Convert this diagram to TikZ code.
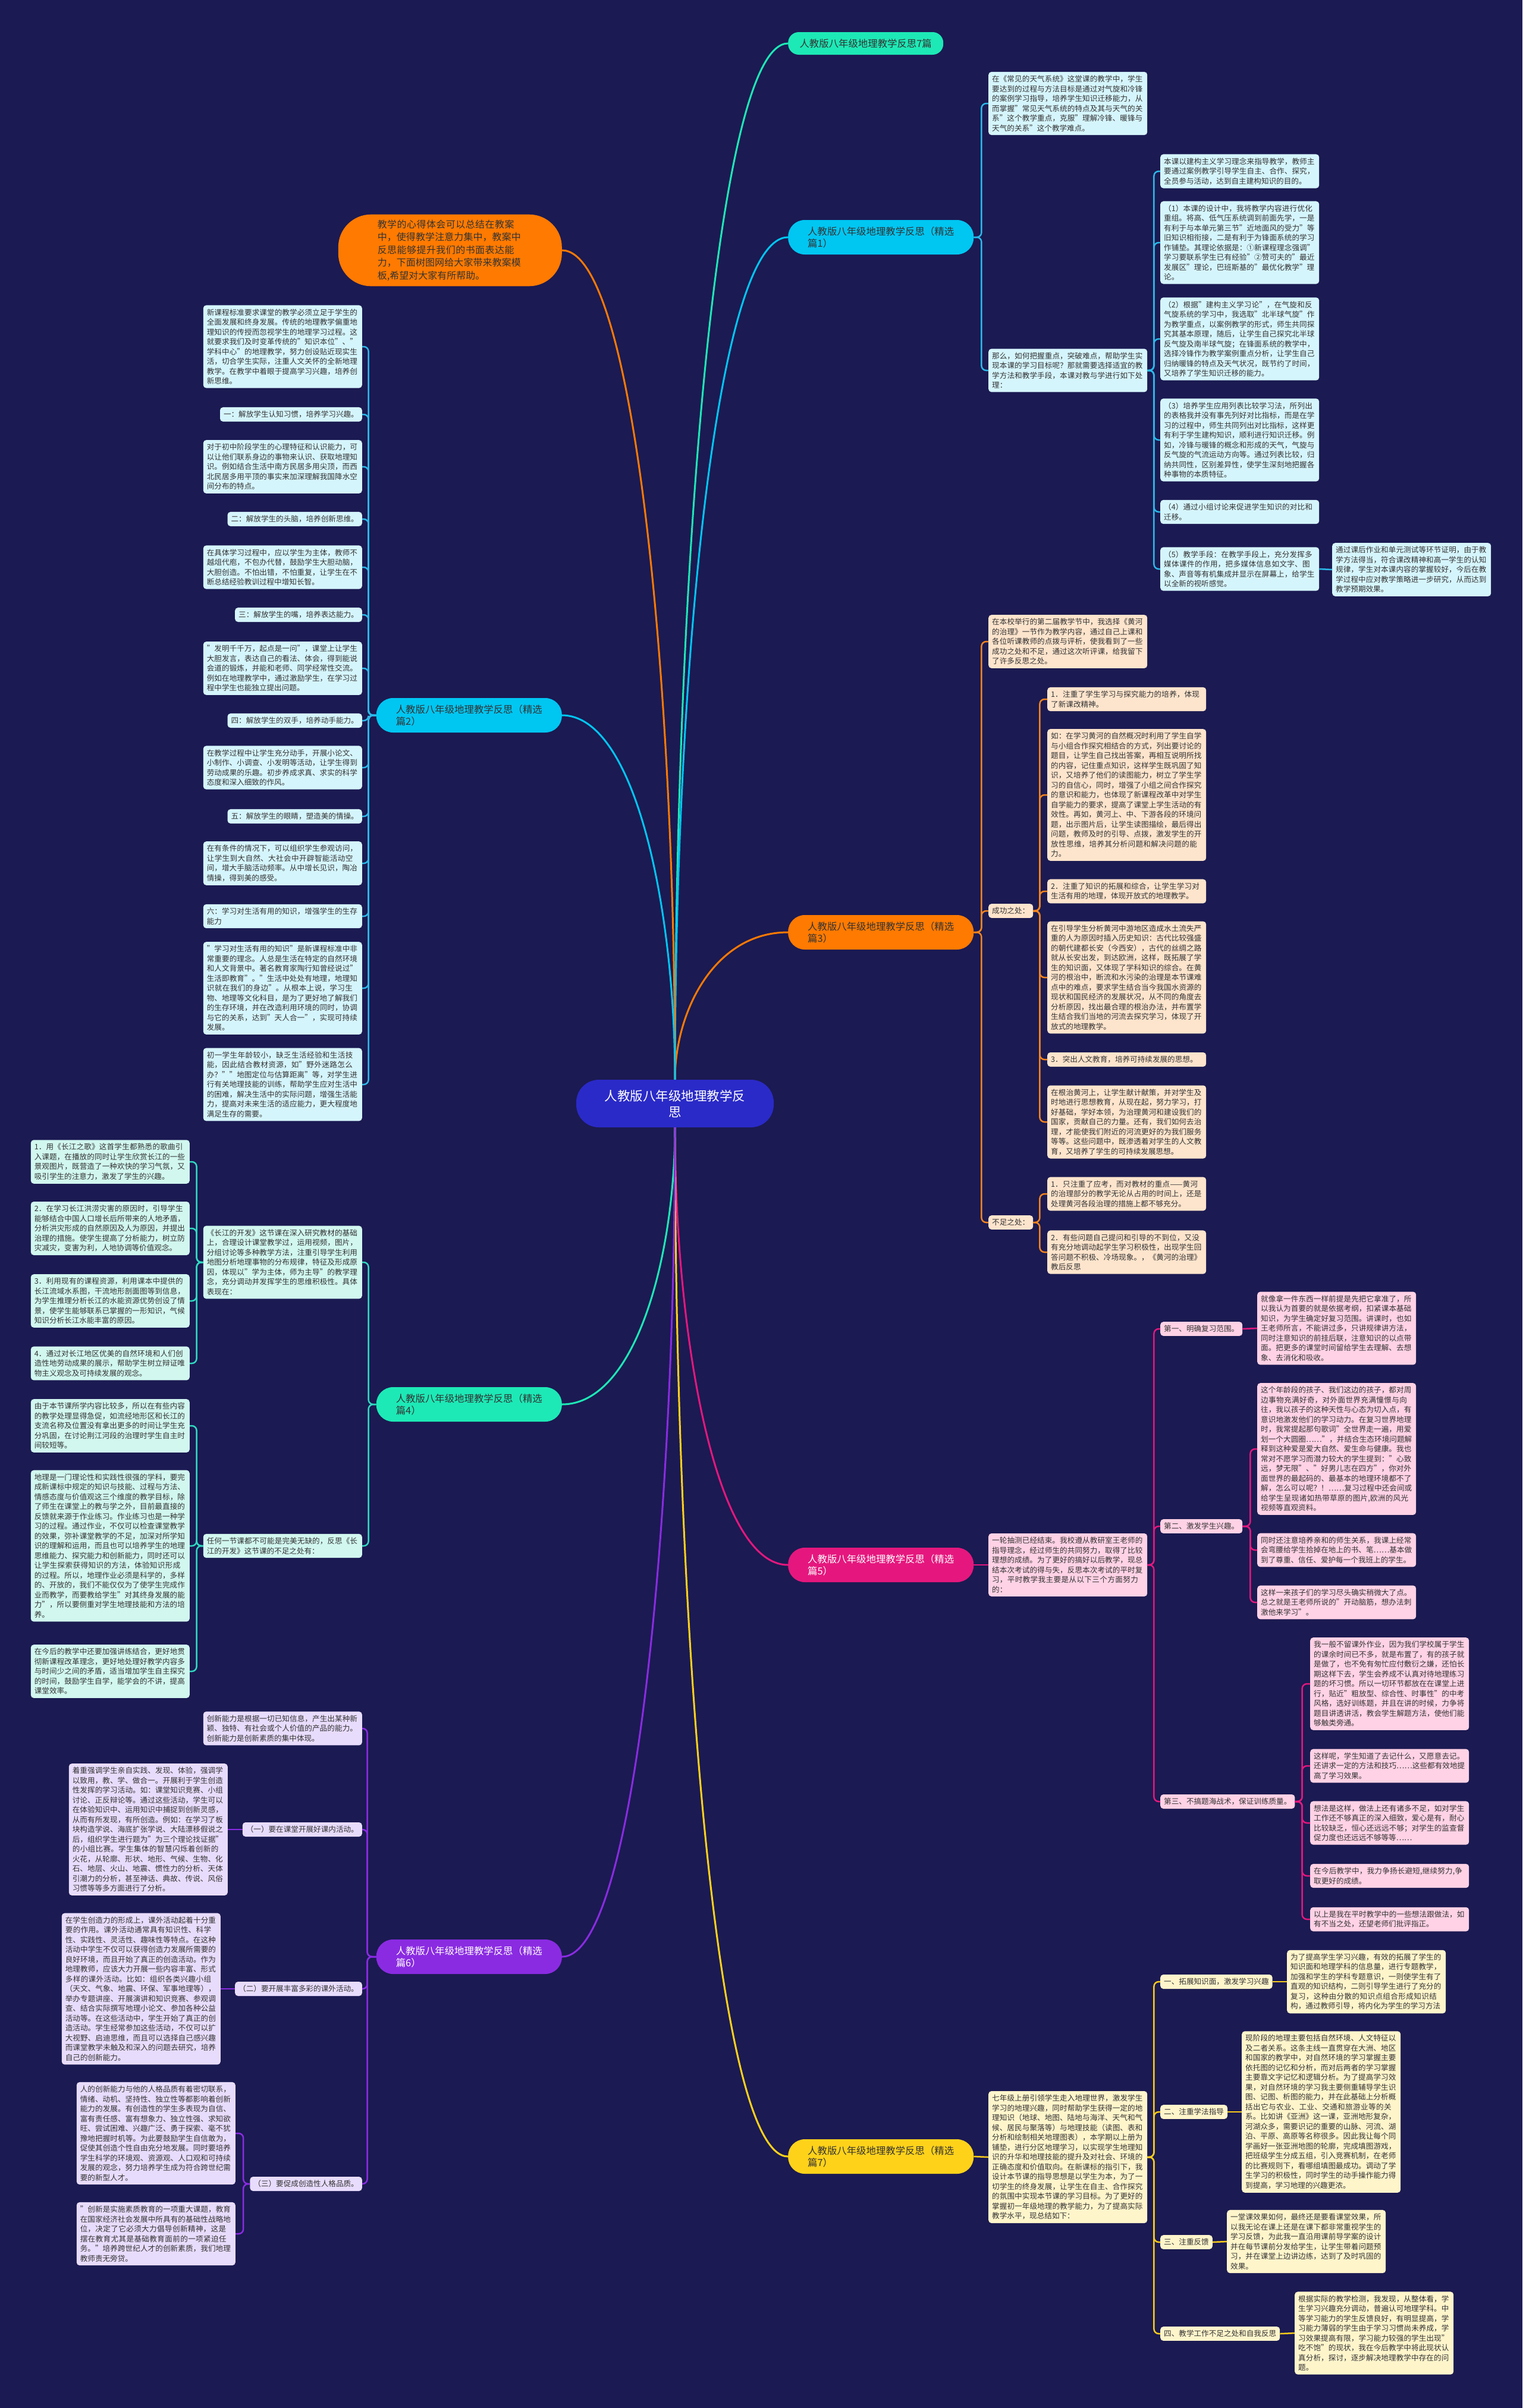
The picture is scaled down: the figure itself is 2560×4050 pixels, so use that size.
\documentclass[tikz,border=0pt]{standalone}
\usepackage{fontspec}
\setmainfont{Noto Sans CJK SC}
\XeTeXlinebreaklocale "zh"
\XeTeXlinebreakskip = 0pt plus 1pt
\definecolor{bg}{HTML}{1B1A52}
\definecolor{txt}{HTML}{333333}
\definecolor{centerc}{HTML}{2A2AC8}
\definecolor{aquac}{HTML}{1DE9B6}
\definecolor{skyc}{HTML}{00C6F2}
\definecolor{orngc}{HTML}{FF7A00}
\definecolor{pinkc}{HTML}{E5177E}
\definecolor{purpc}{HTML}{8A2BE2}
\definecolor{yelc}{HTML}{FFD21A}
\definecolor{cybox}{HTML}{D5F5FC}
\definecolor{pebox}{HTML}{FDE4CC}
\definecolor{pibox}{HTML}{FFD2E5}
\definecolor{yebox}{HTML}{FFF5CB}
\definecolor{mibox}{HTML}{D1F7EF}
\definecolor{lvbox}{HTML}{E8DCFC}
\definecolor{cyline}{HTML}{2BB8E8}
\definecolor{orline}{HTML}{F5841E}
\definecolor{piline}{HTML}{E2187E}
\definecolor{yeline}{HTML}{F7CB1A}
\definecolor{miline}{HTML}{2FD9C0}
\definecolor{puline}{HTML}{8A2BE2}
\tikzset{
  sbox/.style={rectangle, rounded corners=5pt, inner xsep=6pt, inner ysep=6pt,
    font=\fontsize{12.6}{16.5}\selectfont, text=txt, align=left},
  wbox/.style={sbox, text width=255pt},
  lab/.style={rectangle, rounded corners=28pt, minimum width=312pt, minimum height=58pt,
    inner xsep=10pt, inner ysep=8pt, font=\fontsize{16.4}{20}\selectfont, text=txt, align=left},
  conn/.style={line width=2.5pt, rounded corners=8pt},
  curve/.style={line width=3pt},
}
\begin{document}
\begin{tikzpicture}[x=1pt,y=-1pt]
\fill[bg] (0,0) rectangle (2560,4050);
\useasboundingbox (0,0) rectangle (2560,4050);

% central node
\node[rectangle, rounded corners=38pt, fill=centerc, minimum width=332pt, minimum height=80pt,
  text=white, align=center, font=\fontsize{21.5}{27}\selectfont] (c) at (1135,1856)
  {人教版八年级地理教学反\\思};

% ===== first level labels =====
\node[lab, minimum width=261pt, minimum height=38pt, inner ysep=4pt, rounded corners=18pt, fill=aquac, anchor=west] (t0) at (1325,73) {人教版八年级地理教学反思7篇};
\node[lab, fill=skyc, anchor=west] (p1) at (1325,399) {人教版八年级地理教学反思（精选\\篇1）};
\node[lab, fill=orngc, anchor=west] (p3) at (1325,1568) {人教版八年级地理教学反思（精选\\篇3）};
\node[lab, fill=pinkc, text=white, anchor=west] (p5) at (1325,2632) {人教版八年级地理教学反思（精选\\篇5）};
\node[lab, fill=yelc, anchor=west] (p7) at (1325,3627) {人教版八年级地理教学反思（精选\\篇7）};
\node[lab, fill=skyc, anchor=east] (p2) at (945,1203) {人教版八年级地理教学反思（精选\\篇2）};
\node[lab, fill=aquac, anchor=east] (p4) at (945,2362) {人教版八年级地理教学反思（精选\\篇4）};
\node[lab, fill=purpc, text=white, anchor=east] (p6) at (945,3291) {人教版八年级地理教学反思（精选\\篇6）};
\node[rectangle, rounded corners=55pt, fill=orngc, text=txt, text width=244pt, inner xsep=66pt, inner ysep=9pt,
  align=left, font=\fontsize{16}{21.5}\selectfont, anchor=east] (oi) at (945,421)
  {教学的心得体会可以总结在教案中，使得教学注意力集中，教案中反思能够提升我们的书面表达能力，下面树图网给大家带来教案模板,希望对大家有所帮助。};

% center curves
\draw[curve, aquac] (c.north) .. controls (1135,996) and (1202,73) .. (t0.west);
\draw[curve, skyc] (c.north) .. controls (1135,1150) and (1202,399) .. (p1.west);
\draw[curve, orngc] (c.north) .. controls (1135,1700) and (1202,1568) .. (p3.west);
\draw[curve, pinkc] (c.south) .. controls (1135,2242) and (1202,2632) .. (p5.west);
\draw[curve, yelc] (c.south) .. controls (1135,2710) and (1202,3627) .. (p7.west);
\draw[curve, orngc] (c.north) .. controls (1135,1160) and (1068,421) .. (oi.east);
\draw[curve, skyc] (c.north) .. controls (1135,1528) and (1068,1203) .. (p2.east);
\draw[curve, aquac] (c.south) .. controls (1135,2115) and (1068,2362) .. (p4.east);
\draw[curve, purpc] (c.south) .. controls (1135,2552) and (1068,3291) .. (p6.east);

% ===== 篇1 =====
\begin{scope}[every node/.style={wbox, fill=cybox, anchor=west}]
\node (a1) at (1662,174) {在《常见的天气系统》这堂课的教学中，学生要达到的过程与方法目标是通过对气旋和冷锋的案例学习指导，培养学生知识迁移能力，从而掌握"常见天气系统的特点及其与天气的关系"这个教学重点，克服"理解冷锋、暖锋与天气的关系"这个教学难点。};
\node (n1) at (1662,623) {那么，如何把握重点，突破难点，帮助学生实现本课的学习目标呢？那就需要选择适宜的教学方法和教学手段，本课对教与学进行如下处理：};
\node (b1) at (1951,288) {本课以建构主义学习理念来指导教学，教师主要通过案例教学引导学生自主、合作、探究，全员参与活动，达到自主建构知识的目的。};
\node (b2) at (1951,408) {（1）本课的设计中，我将教学内容进行优化重组。将高、低气压系统调到前面先学，一是有利于与本单元第三节"近地面风的受力"等旧知识相衔接，二是有利于为锋面系统的学习作铺垫。其理论依据是：①新课程理念强调"学习要联系学生已有经验"②赞可夫的"最近发展区"理论，巴班斯基的"最优化教学"理论。};
\node (b3) at (1951,570) {（2）根据"建构主义学习论"，在气旋和反气旋系统的学习中，我选取"北半球气旋"作为教学重点，以案例教学的形式，师生共同探究其基本原理，随后，让学生自己探究北半球反气旋及南半球气旋；在锋面系统的教学中，选择冷锋作为教学案例重点分析，让学生自己归纳暖锋的特点及天气状况，既节约了时间，又培养了学生知识迁移的能力。};
\node (b4) at (1951,740) {（3）培养学生应用列表比较学习法，所列出的表格我并没有事先列好对比指标，而是在学习的过程中，师生共同列出对比指标，这样更有利于学生建构知识，顺利进行知识迁移。例如，冷锋与暖锋的概念和形成的天气，气旋与反气旋的气流运动方向等。通过列表比较，归纳共同性，区别差异性，使学生深刻地把握各种事物的本质特征。};
\node (b5) at (1951,861) {（4）通过小组讨论来促进学生知识的对比和迁移。};
\node (b6) at (1951,957) {（5）教学手段：在教学手段上，充分发挥多媒体课件的作用，把多媒体信息如文字、图象、声音等有机集成并显示在屏幕上，给学生以全新的视听感觉。};
\node (b7) at (2240,958) {通过课后作业和单元测试等环节证明，由于教学方法得当，符合课改精神和高一学生的认知规律，学生对本课内容的掌握较好，今后在教学过程中应对教学策略进一步研究，从而达到教学预期效果。};
\end{scope}
\foreach \ch in {a1,n1} \draw[conn, cyline] (p1.east) -- ++(13,0) |- (\ch.west);
\foreach \ch in {b1,b2,b3,b4,b5,b6} \draw[conn, cyline] (n1.east) -- ++(11,0) |- (\ch.west);
\draw[conn, cyline] (b6.east) -- (b7.west);

% ===== 篇3 =====
\begin{scope}[every node/.style={wbox, fill=pebox, anchor=west}]
\node (c0) at (1662,1079) {在本校举行的第二届教学节中，我选择《黄河的治理》一节作为教学内容，通过自己上课和各位听课教师的点拨与评析，使我看到了一些成功之处和不足，通过这次听评课，给我留下了许多反思之处。};
\node[sbox, text width=] (cg) at (1662,1532) {成功之处：};
\node[sbox, text width=] (bz) at (1662,2056) {不足之处：};
\node (s1) at (1761,1176) {1．注重了学生学习与探究能力的培养，体现了新课改精神。};
\node (s2) at (1761,1337) {如：在学习黄河的自然概况时利用了学生自学与小组合作探究相结合的方式，列出要讨论的题目，让学生自己找出答案，再相互说明所找的内容，记住重点知识，这样学生既巩固了知识，又培养了他们的读图能力，树立了学生学习的自信心，同时，增强了小组之间合作探究的意识和能力，也体现了新课程改革中对学生自学能力的要求，提高了课堂上学生活动的有效性。再如，黄河上、中、下游各段的环境问题，出示图片后，让学生读图描绘，最后得出问题，教师及时的引导、点拨，激发学生的开放性思维，培养其分析问题和解决问题的能力。};
\node (s3) at (1761,1499) {2．注重了知识的拓展和综合，让学生学习对生活有用的地理，体现开放式的地理教学。};
\node (s4) at (1761,1644) {在引导学生分析黄河中游地区造成水土流失严重的人为原因时插入历史知识：古代比较强盛的朝代建都长安（今西安），古代的丝绸之路就从长安出发，到达欧洲，这样，既拓展了学生的知识面，又体现了学科知识的综合。在黄河的根治中，断流和水污染的治理是本节课难点中的难点，要求学生结合当今我国水资源的现状和国民经济的发展状况，从不同的角度去分析原因，找出最合理的根治办法，并布置学生结合我们当地的河流去探究学习，体现了开放式的地理教学。};
\node (s5) at (1761,1782) {3．突出人文教育，培养可持续发展的思想。};
\node (s6) at (1761,1887) {在根治黄河上，让学生献计献策，并对学生及时地进行思想教育，从现在起，努力学习，打好基础，学好本领，为治理黄河和建设我们的国家，贡献自己的力量。还有，我们如何去治理，才能使我们附近的河流更好的为我们服务等等。这些问题中，既渗透着对学生的人文教育，又培养了学生的可持续发展思想。};
\node (f1) at (1761,2008) {1．只注重了应考，而对教材的重点——黄河的治理部分的教学无论从占用的时间上，还是处理黄河各段治理的措施上都不够充分。};
\node (f2) at (1761,2106) {2．有些问题自己提问和引导的不到位，又没有充分地调动起学生学习积极性，出现学生回答问题不积极、冷场现象。，《黄河的治理》教后反思};
\end{scope}
\foreach \ch in {c0,cg,bz} \draw[conn, orline] (p3.east) -- ++(13,0) |- (\ch.west);
\foreach \ch in {s1,s2,s3,s4,s5,s6} \draw[conn, orline] (cg.east) -- ++(11,0) |- (\ch.west);
\foreach \ch in {f1,f2} \draw[conn, orline] (bz.east) -- ++(11,0) |- (\ch.west);

% ===== 篇5 =====
\begin{scope}[every node/.style={wbox, fill=pibox, anchor=west}]
\node (q0) at (1662,2632) {一轮抽测已经结束。我校遵从教研室王老师的指导理念，经过师生的共同努力，取得了比较理想的成绩。为了更好的搞好以后教学，现总结本次考试的得与失，反思本次考试的平时复习，平时教学我主要是从以下三个方面努力的：};
\node[sbox, text width=] (d1) at (1951,2235) {第一、明确复习范围。};
\node[sbox, text width=] (d2) at (1951,2567) {第二、激发学生兴趣。};
\node[sbox, text width=] (d3) at (1951,3030) {第三、不搞题海战术，保证训练质量。};
\node (e1) at (2114,2234) {就像拿一件东西一样前提是先把它拿准了，所以我认为首要的就是依据考纲，扣紧课本基础知识，为学生确定好复习范围。讲课时，也如王老师所言，不能讲过多，只讲规律讲方法，同时注意知识的前挂后联，注意知识的以点带面。把更多的课堂时间留给学生去理解、去想象、去消化和吸收。};
\node (e2) at (2114,2437) {这个年龄段的孩子、我们这边的孩子，都对周边事物充满好奇，对外面世界充满憧憬与向往，我以孩子的这种天性与心态为切入点，有意识地激发他们的学习动力。在复习世界地理时，我常提起那句歌词"全世界走一遍，用爱划一个大圆圈……"，并结合生态环境问题解释到这种爱是爱大自然、爱生命与健康。我也常对不愿学习而潜力较大的学生提到："心致远，梦无限"、"好男儿志在四方"，你对外面世界的最起码的、最基本的地理环境都不了解，怎么可以呢？！……复习过程中还会间或给学生呈现诸如热带草原的图片,欧洲的风光视频等直观资料。};
\node (e3) at (2114,2607) {同时还注意培养亲和的师生关系，我课上经常会弯腰给学生拾掉在地上的书、笔……基本做到了尊重、信任、爱护每一个我班上的学生。};
\node (e4) at (2114,2695) {这样一来孩子们的学习尽头确实稍微大了点。总之就是王老师所说的"开动脑筋，想办法刺激他来学习"。};
\node (g1) at (2203,2832) {我一般不留课外作业，因为我们学校属于学生的课余时间已不多，就是布置了，有的孩子就是做了，也不免有匆忙应付敷衍之嫌，还怕长期这样下去，学生会养成不认真对待地理练习题的坏习惯。所以一切环节都放在在课堂上进行，贴近"粗放型、综合性、时事性"的中考风格，选好训练题，并且在讲的时候，力争将题目讲透讲活，教会学生解题方法，使他们能够触类旁通。};
\node (g2) at (2203,2970) {这样呢，学生知道了去记什么，又愿意去记。还讲求一定的方法和技巧……这些都有效地提高了学习效果。};
\node (g3) at (2203,3066) {想法是这样，做法上还有诸多不足，如对学生工作还不够真正的深入细致，爱心是有，耐心比较缺乏，恒心还远远不够；对学生的监查督促力度也还远远不够等等……};
\node (g4) at (2203,3155) {在今后教学中，我力争扬长避短,继续努力,争取更好的成绩。};
\node (g5) at (2203,3228) {以上是我在平时教学中的一些想法跟做法，如有不当之处，还望老师们批评指正。};
\end{scope}
\draw[conn, piline] (p5.east) -- (q0.west);
\foreach \ch in {d1,d2,d3} \draw[conn, piline] (q0.east) -- ++(11,0) |- (\ch.west);
\draw[conn, piline] (d1.east) -- (e1.west);
\foreach \ch in {e2,e3,e4} \draw[conn, piline] (d2.east) -- ++(13,0) |- (\ch.west);
\foreach \ch in {g1,g2,g3,g4,g5} \draw[conn, piline] (d3.east) -- ++(12,0) |- (\ch.west);

% ===== 篇7 =====
\begin{scope}[every node/.style={wbox, fill=yebox, anchor=west}]
\node (y0) at (1662,3628) {七年级上册引领学生走入地理世界，激发学生学习的地理兴趣，同时帮助学生获得一定的地理知识（地球、地图、陆地与海洋、天气和气候、居民与聚落等）与地理技能（读图、表和分析和绘制相关地理图表），本学期以上册为铺垫，进行分区地理学习，以实现学生地理知识的升华和地理技能的提升及对社会、环境的正确态度和价值取向。在新课标的指引下，我设计本节课的指导思想是以学生为本，为了一切学生的终身发展，让学生在自主、合作探究的氛围中实现本节课的学习目标。为了更好的掌握初一年级地理的教学能力，为了提高实际教学水平，现总结如下：};
\node[sbox, text width=] (h1) at (1951,3333) {一、拓展知识面，激发学习兴趣};
\node[sbox, text width=] (h2) at (1951,3552) {二、注重学法指导};
\node[sbox, text width=] (h3) at (1951,3771) {三、注重反馈};
\node[sbox, text width=] (h4) at (1951,3925) {四、教学工作不足之处和自我反思};
\node (y1) at (2164,3333) {为了提高学生学习兴趣，有效的拓展了学生的知识面和地理学科的信息量，进行专题教学，加强和学生的学科专题意识，一则使学生有了直观的知识结构，二则引导学生进行了充分的复习，这种由分散的知识点组合形成知识结构，通过教师引导，将内化为学生的学习方法};
\node (y2) at (2088,3552) {现阶段的地理主要包括自然环境、人文特征以及二者关系。这条主线一直贯穿在大洲、地区和国家的教学中，对自然环境的学习掌握主要依托图的记忆和分析，而对后两者的学习掌握主要靠文字记忆和逻辑分析。为了提高学习效果，对自然环境的学习我主要侧重辅导学生识图、记图、析图的能力，并在此基础上分析概括出它与农业、工业、交通和旅游业等的关系。比如讲《亚洲》这一课，亚洲地形复杂，河湖众多，需要识记的重要的山脉、河流、湖泊、平原、高原等名称很多。因此我让每个同学画好一张亚洲地图的轮廓，完成填图游戏，把班级学生分成五组，引入竞赛机制，在老师的比赛规则下，看哪组填图最成功。调动了学生学习的积极性，同时学生的动手操作能力得到提高，学习地理的兴趣更浓。};
\node (y3) at (2063,3770) {一堂课效果如何，最终还是要看课堂效果，所以我无论在课上还是在课下都非常重视学生的学习反馈，为此我一直沿用课前导学案的设计并在每节课前分发给学生，让学生带着问题预习，并在课堂上边讲边练，达到了及时巩固的效果。};
\node (y4) at (2177,3924) {根据实际的教学检测，我发现，从整体看，学生学习兴趣充分调动，普遍认可地理学科。中等学习能力的学生反馈良好，有明显提高，学习能力薄弱的学生由于学习习惯尚未养成，学习效果提高有限，学习能力较强的学生出现"吃不饱"的现状，我在今后教学中将此现状认真分析，探讨，逐步解决地理教学中存在的问题。};
\end{scope}
\draw[conn, yeline] (p7.east) -- (y0.west);
\foreach \ch in {h1,h2,h3,h4} \draw[conn, yeline] (y0.east) -- ++(11,0) |- (\ch.west);
\draw[conn, yeline] (h1.east) -- (y1.west);
\draw[conn, yeline] (h2.east) -- (y2.west);
\draw[conn, yeline] (h3.east) -- (y3.west);
\draw[conn, yeline] (h4.east) -- (y4.west);

% ===== 篇2 (left) =====
\begin{scope}[every node/.style={wbox, fill=cybox, anchor=east}]
\node (l1) at (609,583) {新课程标准要求课堂的教学必须立足于学生的全面发展和终身发展。传统的地理教学偏重地理知识的传授而忽视学生的地理学习过程。这就要求我们及时变革传统的"知识本位"、"学科中心"的地理教学，努力创设贴近现实生活，切合学生实际，注重人文关怀的全新地理教学。在教学中着眼于提高学习兴趣，培养创新思维。};
\node[sbox, text width=] (l2) at (609,697) {一：解放学生认知习惯，培养学习兴趣。};
\node (l3) at (609,785) {对于初中阶段学生的心理特征和认识能力，可以让他们联系身边的事物来认识、获取地理知识。例如结合生活中南方民居多用尖顶，而西北民居多用平顶的事实来加深理解我国降水空间分布的特点。};
\node[sbox, text width=] (l4) at (609,873) {二：解放学生的头脑，培养创新思维。};
\node (l5) at (609,954) {在具体学习过程中，应以学生为主体，教师不越俎代庖，不包办代替，鼓励学生大胆动脑，大胆创造。不怕出错，不怕重复，让学生在不断总结经验教训过程中增知长智。};
\node[sbox, text width=] (l6) at (609,1034) {三：解放学生的嘴，培养表达能力。};
\node (l7) at (609,1124) {"发明千千万，起点是一问"，课堂上让学生大胆发言，表达自己的看法、体会，得到能说会道的锻炼，并能和老师、同学经常性交流。例如在地理教学中，通过激励学生，在学习过程中学生也能独立提出问题。};
\node[sbox, text width=] (l8) at (609,1212) {四：解放学生的双手，培养动手能力。};
\node (l9) at (609,1291) {在教学过程中让学生充分动手，开展小论文、小制作、小调查、小发明等活动，让学生得到劳动成果的乐趣。初步养成求真、求实的科学态度和深入细致的作风。};
\node[sbox, text width=] (l10) at (609,1373) {五：解放学生的眼睛，塑造美的情操。};
\node (l11) at (609,1452) {在有条件的情况下，可以组织学生参观访问，让学生到大自然、大社会中开辟智能活动空间，增大手脑活动频率。从中增长见识，陶冶情操，得到美的感受。};
\node (l12) at (609,1541) {六：学习对生活有用的知识，增强学生的生存能力};
\node (l13) at (609,1662) {"学习对生活有用的知识"是新课程标准中非常重要的理念。人总是生活在特定的自然环境和人文背景中。著名教育家陶行知曾经说过"生活即教育"。"生活中处处有地理，地理知识就在我们的身边"。从根本上说，学习生物、地理等文化科目，是为了更好地了解我们的生存环境，并在改造利用环境的同时，协调与它的关系，达到"天人合一"，实现可持续发展。};
\node (l14) at (609,1824) {初一学生年龄较小，缺乏生活经验和生活技能，因此结合教材资源，如"野外迷路怎么办？""地图定位与估算距离"等，对学生进行有关地理技能的训练，帮助学生应对生活中的困难，解决生活中的实际问题，增强生活能力，提高对未来生活的适应能力，更大程度地满足生存的需要。};
\end{scope}
\foreach \ch in {l1,l2,l3,l4,l5,l6,l7,l8,l9,l10,l11,l12,l13,l14} \draw[conn, cyline] (p2.west) -- ++(-13,0) |- (\ch.east);

% ===== 篇4 (left) =====
\begin{scope}[every node/.style={wbox, fill=mibox, anchor=east}]
\node (m1) at (609,2123) {《长江的开发》这节课在深入研究教材的基础上，合理设计课堂教学过，运用视频，图片，分组讨论等多种教学方法，注重引导学生利用地图分析地理事物的分布规律，特征及形成原因，体现以"学为主体，师为主导"的教学理念，充分调动并发挥学生的思维积极性。具体表现在：};
\node (m2) at (609,2600) {任何一节课都不可能是完美无缺的，反思《长江的开发》这节课的不足之处有：};
\node (k1) at (319,1954) {1．用《长江之歌》这首学生都熟悉的歌曲引入课题，在播放的同时让学生欣赏长江的一些景观图片，既营造了一种欢快的学习气氛，又吸引学生的注意力，激发了学生的兴趣。};
\node (k2) at (319,2066) {2．在学习长江洪涝灾害的原因时，引导学生能够结合中国人口增长后所带来的人地矛盾，分析洪灾形成的自然原因及人为原因，并提出治理的措施。使学生提高了分析能力，树立防灾减灾，变害为利，人地协调等价值观念。};
\node (k3) at (319,2188) {3．利用现有的课程资源，利用课本中提供的长江流域水系图，干流地形剖面图等到信息，为学生推理分析长江的水能资源优势创设了情景，使学生能够联系已掌握的一形知识，气候知识分析长江水能丰富的原因。};
\node (k4) at (319,2293) {4．通过对长江地区优美的自然环境和人们创造性地劳动成果的展示，帮助学生树立辩证唯物主义观念及可持续发展的观念。};
\node (k5) at (319,2398) {由于本节课所学内容比较多，所以在有些内容的教学处理显得急促，如流经地形区和长江的支流名称及位置没有拿出更多的时间让学生充分巩固，在讨论荆江河段的治理时学生自主时间较短等。};
\node (k6) at (319,2600) {地理是一门理论性和实践性很强的学科，要完成新课标中规定的知识与技能、过程与方法、情感态度与价值观这三个维度的教学目标，除了师生在课堂上的教与学之外，目前最直接的反馈就来源于作业练习。作业练习也是一种学习的过程。通过作业，不仅可以检查课堂教学的效果，弥补课堂教学的不足，加深对所学知识的理解和运用，而且也可以培养学生的地理思维能力、探究能力和创新能力，同时还可以让学生探索获得知识的方法，体验知识形成的过程。所以，地理作业必须是科学的，多样的、开放的，我们不能仅仅为了使学生完成作业而教学，而要教给学生"对其终身发展的能力"，所以要侧重对学生地理技能和方法的培养。};
\node (k7) at (319,2811) {在今后的教学中还要加强讲练结合，更好地贯彻新课程改革理念，更好地处理好教学内容多与时间少之间的矛盾，适当增加学生自主探究的时间，鼓励学生自学，能学会的不讲，提高课堂效率。};
\end{scope}
\foreach \ch in {m1,m2} \draw[conn, miline] (p4.west) -- ++(-13,0) |- (\ch.east);
\foreach \ch in {k1,k2,k3,k4} \draw[conn, miline] (m1.west) -- ++(-11,0) |- (\ch.east);
\foreach \ch in {k5,k6,k7} \draw[conn, miline] (m2.west) -- ++(-11,0) |- (\ch.east);

% ===== 篇6 (left) =====
\begin{scope}[every node/.style={wbox, fill=lvbox, anchor=east}]
\node (v0) at (609,2907) {创新能力是根据一切已知信息，产生出某种新颖、独特、有社会或个人价值的产品的能力。创新能力是创新素质的集中体现。};
\node[sbox, text width=] (v1) at (609,3077) {（一）要在课堂开展好课内活动。};
\node[sbox, text width=] (v2) at (609,3345) {（二）要开展丰富多彩的课外活动。};
\node[sbox, text width=] (v3) at (609,3673) {（三）要促成创造性人格品质。};
\node (w1) at (383,3077) {着重强调学生亲自实践、发现、体验，强调学以致用，教、学、做合一。开展利于学生创造性发挥的学习活动。如：课堂知识竞赛、小组讨论、正反辩论等。通过这些活动，学生可以在体验知识中、运用知识中捕捉到创新灵感，从而有所发现，有所创造。例如：在学习了板块构造学说、海底扩张学说、大陆漂移假说之后，组织学生进行题为"为三个理论找证据"的小组比赛。学生集体的智慧闪烁着创新的火花，从轮廓、形状、地形、气候、生物、化石、地层、火山、地震、惯性力的分析、天体引潮力的分析，甚至神话、典故、传说、风俗习惯等等多方面进行了分析。};
\node (w2) at (371,3345) {在学生创造力的形成上，课外活动起着十分重要的作用。课外活动通常具有知识性、科学性、实践性、灵活性、趣味性等特点。在这种活动中学生不仅可以获得创造力发展所需要的良好环境，而且开始了真正的创造活动。作为地理教师，应该大力开展一些内容丰富、形式多样的课外活动。比如：组织各类兴趣小组（天文、气象、地震、环保、军事地理等），举办专题讲座、开展演讲和知识竞赛、参观调查、结合实际撰写地理小论文、参加各种公益活动等。在这些活动中，学生开始了真正的创造活动。学生经常参加这些活动，不仅可以扩大视野、启迪思维，而且可以选择自己感兴趣而课堂教学未触及和深入的问题去研究，培养自己的创新能力。};
\node (w3) at (396,3588) {人的创新能力与他的人格品质有着密切联系，情绪、动机、坚持性、独立性等都影响着创新能力的发展。有创造性的学生多表现为自信、富有责任感、富有想象力、独立性强、求知欲旺、尝试困难、兴趣广泛、勇于探索、毫不犹豫地把握时机等。为此要鼓励学生自信敢为，促使其创造个性自由充分地发展。同时要培养学生科学的环境观、资源观、人口观和可持续发展的观念，努力培养学生成为符合跨世纪需要的新型人才。};
\node (w4) at (396,3757) {"创新是实施素质教育的一项重大课题，教育在国家经济社会发展中所具有的基础性战略地位，决定了它必须大力倡导创新精神，这是摆在教育尤其是基础教育面前的一项紧迫任务。"培养跨世纪人才的创新素质，我们地理教师责无旁贷。};
\end{scope}
\foreach \ch in {v0,v1,v2,v3} \draw[conn, puline] (p6.west) -- ++(-15,0) |- (\ch.east);
\draw[conn, puline] (v1.west) -- (w1.east);
\draw[conn, puline] (v2.west) -- (w2.east);
\foreach \ch in {w3,w4} \draw[conn, puline] (v3.west) -- ++(-11,0) |- (\ch.east);
\end{tikzpicture}
\end{document}
